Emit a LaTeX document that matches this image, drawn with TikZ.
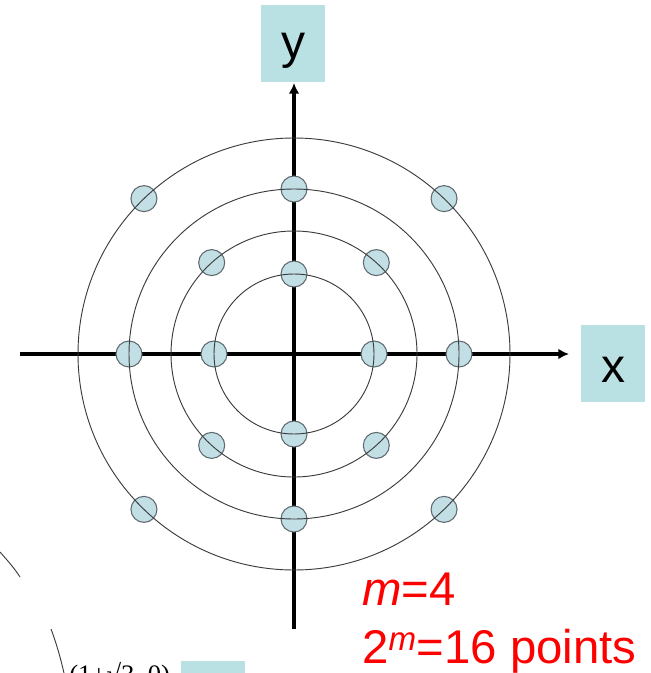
\documentclass[tikz,border=0pt]{standalone}
\usepackage{fontspec}
\setmainfont{Liberation Sans}
\newfontfamily\timesfnt{Liberation Serif}
\usepackage{tikz}
\usetikzlibrary{arrows.meta}
\definecolor{dotfill}{RGB}{194,223,230}
\definecolor{boxfill}{RGB}{185,224,227}
\definecolor{ringgray}{RGB}{60,60,60}
\definecolor{dotedge}{RGB}{95,105,110}

\begin{document}
\begin{tikzpicture}[x=0.75pt,y=0.75pt,yscale=-1,xscale=1,
  ring/.style={draw=ringgray, line width=0.7pt},
  axis/.style={line width=2.5pt, -{Latex[length=8pt,width=8pt]}},
  pt/.style={circle, fill=dotfill, draw=dotedge, line width=0.8pt, minimum size=19.5pt, inner sep=0pt},
  lbl/.style={fill=boxfill, minimum width=48pt, minimum height=57.75pt, inner sep=0pt, text height=28pt, text depth=0pt, font=\fontsize{36}{40}\selectfont},
  note/.style={text=red, inner sep=0pt, font=\fontsize{35.5}{40}\selectfont}]
\useasboundingbox (0,0) rectangle (650,673);
\clip (0,0) rectangle (650,673);

%centre and axis ends
\coordinate (o) at (294,354);
\coordinate (xl) at (20,354);
\coordinate (xr) at (569,354);
\coordinate (yb) at (294,629);
\coordinate (yt) at (294,83);

%Axes
\draw [axis] (xl) -- (xr);
\draw [axis] (yb) -- (yt);

%Points on the four rings
\foreach \a in {0,90,180,270}{
  \node [pt] (p1-\a) at ([shift={(\a:80)}]o) {};
  \node [pt] (p3-\a) at ([shift={(\a:165)}]o) {};
}
\foreach \a in {48,132,228,312}
  \node [pt] (p2-\a) at ([shift={(\a:123)}]o) {};
\foreach \a in {46,134,226,314}
  \node [pt] (p4-\a) at ([shift={(\a:216)}]o) {};

%Rings
\foreach \r in {80,123,165,216}
  \draw [ring] (o) circle (\r);

% Text Node
\node [lbl, text height=23pt] (ylab) at (293,43.5) {y};
% Text Node
\node [lbl] (xlab) at (613,363.5) {x};
% Text Node
\node [note, anchor=base west] (mval) at (362,605) {\textit{m}=4};
% Text Node
\node [note, anchor=base west] (npts) at (362,663) {2\textsuperscript{\textit{m}}=16 points};

%cut-off bits at the lower left
\draw [ring] (0,552) .. controls (8,561) and (15,569) .. (20,577);
\draw [ring] (51,629) .. controls (57,645) and (61,660) .. (64,673);
\node [anchor=base west, inner sep=0pt, font=\timesfnt\fontsize{20}{24}\selectfont] (pt13) at (69,683) {(1+√3, 0)};
\node [fill=boxfill, anchor=north west, minimum width=48pt, minimum height=30pt, inner sep=0pt] (cutbox) at (181,661) {};

\end{tikzpicture}
\end{document}
